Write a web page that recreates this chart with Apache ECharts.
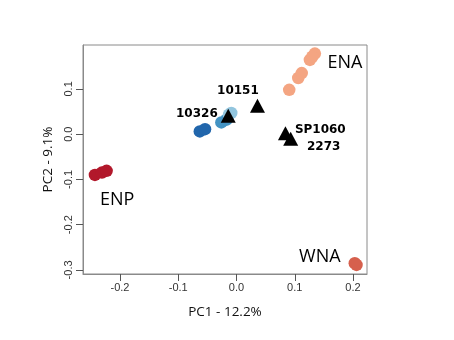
<!DOCTYPE html>
<html><head><meta charset="utf-8">
<script src="https://cdn.jsdelivr.net/npm/echarts@6/dist/echarts.min.js"></script>
<style>html,body{margin:0;padding:0;background:#fff}#c{width:454px;height:340px}</style>
</head><body><div id="c"></div>
<script>
const xTicks = [-0.2, -0.1, 0.0, 0.1, 0.2];
const yTicks = [-0.3, -0.2, -0.1, 0.0, 0.1];
const enp = [[-0.243, -0.090], [-0.231, -0.085], [-0.223, -0.081]];
const darkBlue = [[-0.063, 0.006], [-0.054, 0.011]];
const midBlue = [[-0.026, 0.026], [-0.017, 0.032]];
const lightBlue = [[-0.009, 0.047], [-0.013, 0.043]];
const ena = [[0.0905, 0.098], [0.106, 0.124], [0.112, 0.135], [0.126, 0.164], [0.1345, 0.178], [0.130, 0.171]];
const wna = [[0.203, -0.285], [0.206, -0.289]];
const samples = [[-0.0142, 0.0405], [0.036, 0.063], [0.084, 0.002], [0.093, -0.010]];
const popLabels = [{name: 'ENA', x: 0.186, y: 0.158}, {name: 'ENP', x: -0.205, y: -0.145}, {name: 'WNA', x: 0.143, y: -0.271}];
const sampleLabelsCenter = [{name: '10151', x: 0.0024, y: 0.0965}, {name: '10326', x: -0.068, y: 0.045}];
const sampleLabelsLeft = [{name: 'SP1060', x: 0.1002, y: 0.0095}, {name: '2273', x: 0.121, y: -0.028}];

const chart = echarts.init(document.getElementById('c'));
function dots(data, color) {
  return {type: 'scatter', data: data, symbol: 'circle', symbolSize: 12.5, itemStyle: {color: color, opacity: 1}, z: 2};
}
function textSeries(list, align, font) {
  return {type: 'scatter', symbolSize: 0, z: 5, silent: true, itemStyle: {opacity: 1},
    data: list.map(d => ({value: [d.x, d.y], name: d.name})),
    label: Object.assign({show: true, position: 'inside', align: align, verticalAlign: 'middle', formatter: p => p.name, color: '#000', opacity: 1}, font)};
}
chart.setOption({
  animation: false,
  grid: {left: 83, right: 87, top: 45, bottom: 66, show: true, borderColor: '#8a8a8a', borderWidth: 1, backgroundColor: 'transparent'},
  xAxis: {type: 'value', min: -0.2635, max: 0.224, name: 'PC1 - 12.2%', nameLocation: 'middle', nameGap: 31,
    nameTextStyle: {fontFamily: 'Open Sans', fontSize: 13.5, color: '#111'},
    axisLine: {show: true, onZero: false, lineStyle: {color: '#8a8a8a'}},
    axisTick: {show: true, inside: false, length: 7, customValues: xTicks, lineStyle: {color: '#555'}},
    axisLabel: {customValues: xTicks, formatter: v => v.toFixed(1), fontFamily: 'Liberation Sans', fontSize: 11, color: '#333', margin: 8},
    splitLine: {show: false}},
  yAxis: {type: 'value', min: -0.309, max: 0.197, name: 'PC2 - 9.1%', nameLocation: 'middle', nameGap: 23,
    nameTextStyle: {fontFamily: 'Open Sans', fontSize: 13.5, color: '#111'},
    axisLine: {show: true, onZero: false, lineStyle: {color: '#8a8a8a'}},
    axisTick: {show: true, inside: false, length: 7, customValues: yTicks, lineStyle: {color: '#555'}},
    axisLabel: {customValues: yTicks, rotate: 90, formatter: v => v.toFixed(1), fontFamily: 'Liberation Sans', fontSize: 11, color: '#333', margin: 9},
    splitLine: {show: false}},
  series: [
    dots(enp, '#b2182b'),
    dots(darkBlue, '#2166ac'),
    dots(midBlue, '#4393c3'),
    dots(lightBlue, '#92c5de'),
    dots(ena, '#f4a582'),
    dots(wna, '#d6604d'),
    {type: 'scatter', data: samples, symbol: 'triangle', symbolSize: [15, 14], itemStyle: {color: '#000', opacity: 1}, z: 4},
    textSeries(popLabels, 'center', {fontFamily: 'Open Sans', fontSize: 18}),
    textSeries(sampleLabelsCenter, 'center', {fontFamily: 'DejaVu Sans', fontSize: 12, fontWeight: 'bold'}),
    textSeries(sampleLabelsLeft, 'left', {fontFamily: 'DejaVu Sans', fontSize: 12, fontWeight: 'bold'})
  ]
});
</script></body></html>
